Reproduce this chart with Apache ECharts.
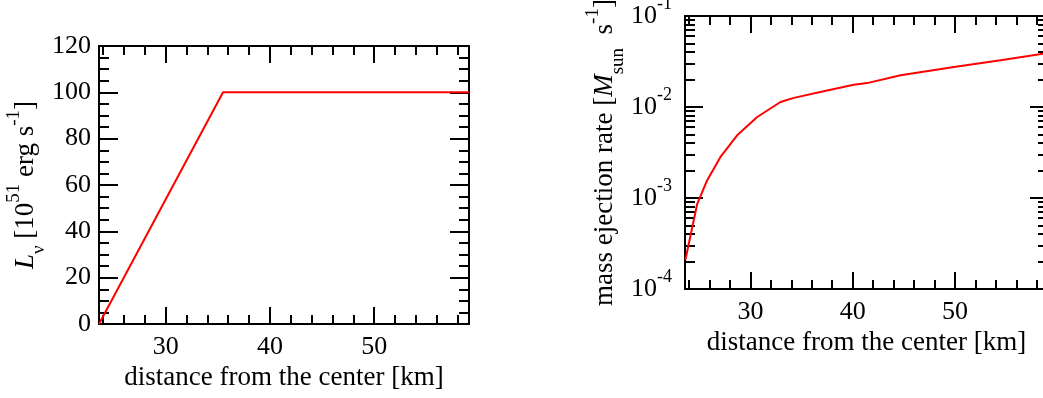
<!DOCTYPE html>
<html>
<head>
<meta charset="utf-8">
<script src="https://cdn.jsdelivr.net/npm/echarts@6/dist/echarts.min.js"></script>
<style>
html,body{margin:0;padding:0;background:#fff;}
#main{width:1043px;height:398px;}
</style>
</head>
<body>
<div id="main"></div>
<script>
// 左图: 中微子光度
var lumX = [23.6, 35.5, 59.1];
var lumY = [0, 100, 100];
// 右图: 质量抛射率
var ejX = [23.64, 24.78, 25.76, 27.07, 28.7, 30.66, 32.94, 34.24, 37.5, 40.1, 41.4, 44.68, 49.9, 54.46, 58.67, 59.06];
var ejY = [2.1e-4, 8.5e-4, 1.56e-3, 2.83e-3, 4.89e-3, 7.76e-3, 1.135e-2, 1.26e-2, 1.52e-2, 1.76e-2, 1.83e-2, 2.23e-2, 2.75e-2, 3.26e-2, 3.86e-2, 3.93e-2];

// 刻度
var xMajor = [30, 40, 50];
var xMinor = [24, 26, 28, 30, 32, 34, 36, 38, 40, 42, 44, 46, 48, 50, 52, 54, 56, 58];
var lumMajor = [0, 20, 40, 60, 80, 100, 120];
var lumMinor = [0, 5, 10, 15, 20, 25, 30, 35, 40, 45, 50, 55, 60, 65, 70, 75, 80, 85, 90, 95, 100, 105, 110, 115, 120];
var ejMajor = [1e-4, 1e-3, 1e-2, 1e-1];
var ejMinor = [2e-4, 3e-4, 4e-4, 5e-4, 6e-4, 7e-4, 8e-4, 9e-4,
               2e-3, 3e-3, 4e-3, 5e-3, 6e-3, 7e-3, 8e-3, 9e-3,
               2e-2, 3e-2, 4e-2, 5e-2, 6e-2, 7e-2, 8e-2, 9e-2];

var font = 'Liberation Serif';
var black = '#000';

function pairs(xs, ys) {
  var out = [];
  for (var i = 0; i < xs.length; i++) out.push([xs[i], ys[i]]);
  return out;
}

// 一条边: 主轴(轴线+长刻度) + 次刻度轴
function side(grid, pos, type, min, max, major, minor, majorLen, minorLen, label, extra) {
  var base = {gridIndex: grid, position: pos, type: type, min: min, max: max,
              splitLine: {show: false}, silent: true};
  if (type === 'log') base.logBase = 10;
  var main = Object.assign({}, base, {
    axisLine: {show: true, onZero: false, lineStyle: {color: black, width: 2}},
    axisTick: {show: true, inside: true, length: majorLen, customValues: major,
               lineStyle: {color: black, width: 2}},
    axisLabel: label ? Object.assign({customValues: major}, label) : {show: false}
  });
  if (extra) Object.assign(main, extra);
  var sub = Object.assign({}, base, {
    axisLine: {show: false, onZero: false},
    axisTick: {show: true, inside: true, length: minorLen, customValues: minor,
               lineStyle: {color: black, width: 2}},
    axisLabel: {show: false}
  });
  return [main, sub];
}

var tickFont = {fontFamily: font, fontSize: 26, color: black};
var xTitle = {
  name: 'distance from the center [km]', nameLocation: 'middle', nameGap: 38,
  nameTextStyle: {fontFamily: font, fontSize: 27, color: black}
};
var richName = {
  n: {fontFamily: font, fontSize: 27, lineHeight: 44, color: black},
  i: {fontFamily: font, fontSize: 27, lineHeight: 44, fontStyle: 'italic', color: black},
  sub: {fontFamily: font, fontSize: 19, lineHeight: 19, verticalAlign: 'bottom', color: black},
  sup: {fontFamily: font, fontSize: 19, lineHeight: 19, verticalAlign: 'top', color: black}
};

var xAxis = [].concat(
  side(0, 'bottom', 'value', 23.6, 59.1, xMajor, xMinor, 17, 9,
       Object.assign({margin: 10}, tickFont), xTitle),
  side(0, 'top', 'value', 23.6, 59.1, xMajor, xMinor, 17, 9),
  side(1, 'bottom', 'value', 23.6, 59.1, xMajor, xMinor, 17, 9,
       Object.assign({margin: 10}, tickFont), xTitle),
  side(1, 'top', 'value', 23.6, 59.1, xMajor, xMinor, 17, 9)
);

var yAxis = [].concat(
  side(0, 'left', 'value', 0, 120, lumMajor, lumMinor, 19, 10,
       Object.assign({margin: 8}, tickFont), {
    name: '{i|L}{sub|ν}{n| [10}{sup|51}{n| erg s}{sup|-1}{n|]}',
    nameLocation: 'middle', nameRotate: 90, nameGap: 47,
    nameTextStyle: {fontFamily: font, fontSize: 27, color: black, rich: richName}
  }),
  side(0, 'right', 'value', 0, 120, lumMajor, lumMinor, 19, 10),
  side(1, 'left', 'log', 1e-4, 1e-1, ejMajor, ejMinor, 18, 10, {
    margin: 13,
    formatter: function (v) {
      return '{b|10}{s|' + Math.round(Math.log10(v)) + '}';
    },
    rich: {
      b: {fontFamily: font, fontSize: 26, lineHeight: 42, color: black},
      s: {fontFamily: font, fontSize: 18, lineHeight: 18, verticalAlign: 'top', color: black}
    }
  }, {
    name: '{n|mass ejection rate [}{i|M}{sub|sun}{n|  s}{sup|-1}{n|]}',
    nameLocation: 'middle', nameRotate: 90, nameGap: 47,
    nameTextStyle: {fontFamily: font, fontSize: 27, color: black, rich: richName}
  }),
  side(1, 'right', 'log', 1e-4, 1e-1, ejMajor, ejMinor, 18, 10)
);

var chart = echarts.init(document.getElementById('main'));
chart.setOption({
  animation: false,
  backgroundColor: '#fff',
  grid: [
    {left: 99, top: 46, width: 370, height: 278, containLabel: false, outerBoundsMode: 'none'},
    {left: 685, top: 16, width: 363, height: 273, containLabel: false, outerBoundsMode: 'none'}
  ],
  xAxis: xAxis,
  yAxis: yAxis,
  series: [
    {type: 'line', xAxisIndex: 0, yAxisIndex: 0, data: pairs(lumX, lumY),
     showSymbol: false, lineStyle: {color: '#ff0000', width: 2}},
    {type: 'line', xAxisIndex: 4, yAxisIndex: 4, data: pairs(ejX, ejY),
     showSymbol: false, lineStyle: {color: '#ff0000', width: 2}}
  ]
});
</script>
</body>
</html>
